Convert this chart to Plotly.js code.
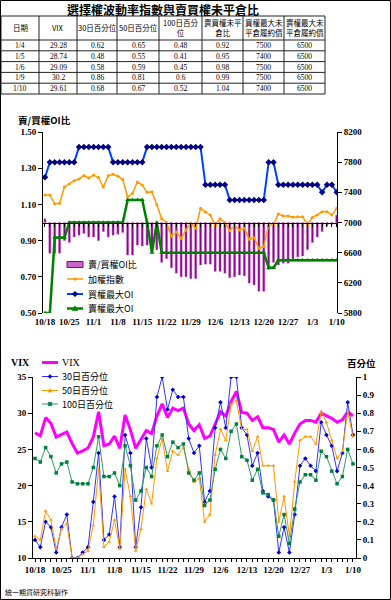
<!DOCTYPE html>
<html>
<head>
<meta charset="utf-8">
<script src="https://cdn.plot.ly/plotly-3.0.1.min.js"></script>
<style>
html,body{margin:0;padding:0;background:#fff;}
#chart{width:391px;height:600px;}
</style>
</head>
<body>
<div id="chart"></div>
<script>
// ---------------- DATA ----------------
const dates = ['10/18','10/19','10/20','10/21','10/24','10/25','10/26','10/27','10/28','10/31',
  '11/1','11/2','11/3','11/4','11/7','11/8','11/9','11/10','11/11','11/14',
  '11/15','11/16','11/17','11/18','11/21','11/22','11/23','11/24','11/25','11/28',
  '11/29','11/30','12/1','12/2','12/5','12/6','12/7','12/8','12/9','12/12',
  '12/13','12/14','12/15','12/16','12/19','12/20','12/21','12/22','12/23','12/26',
  '12/27','12/28','12/29','12/30','1/2','1/3','1/4','1/5','1/6','1/9','1/10'];

// 賣/買權OI比 (left axis, bars from 1.00)
const pcRatio = [1.02,0.83,0.83,0.83,0.90,0.89,0.92,0.93,0.94,0.92,
  0.92,0.90,0.95,0.92,0.93,0.935,0.945,0.82,0.82,0.875,
  0.87,0.875,0.87,0.85,0.78,0.80,0.75,0.72,0.70,0.70,
  0.69,0.69,0.765,0.77,0.77,0.73,0.73,0.72,0.695,0.70,
  0.71,0.705,0.665,0.655,0.62,0.62,0.74,0.78,0.765,0.775,
  0.775,0.80,0.81,0.815,0.85,0.89,0.92,0.95,0.98,0.99,1.04];

// 加權指數 (right axis)
const taiex = [7365,7365,7245,7255,7471,7510,7554,7577,7623,7590,
  7630,7597,7471,7620,7639,7613,7570,7338,7387,7537,
  7497,7400,7408,7236,7050,7000,6817,6874,6790,6900,
  6993,6923,7188,7139,7100,6960,7049,7000,6890,6960,
  6900,6923,6777,6798,6658,6679,6967,6967,7113,7086,
  7086,7069,7077,7077,6967,7069,7100,7143,7143,7100,7188];

// 買權最大OI (right axis)
const callMaxOI = [7600,7800,7800,7800,7800,7800,7800,8000,8000,8000,
  8000,8000,8000,8000,7800,7800,7800,7800,7800,7800,
  7800,8000,8000,8000,8000,8000,8000,8000,8000,8000,
  8000,8000,8000,7500,7500,7500,7500,7500,7300,7300,
  7300,7300,7300,7300,7300,7300,7800,7800,7500,7500,
  7500,7500,7500,7500,7500,7500,7500,7400,7500,7500,7400];

// 賣權最大OI (right axis)
const putMaxOI = [5800,5800,6800,6800,6800,7000,7000,7000,7000,7000,
  7000,7000,7000,7000,7000,7000,7000,7300,7300,7300,
  7300,7000,6600,7000,6600,6600,6600,6600,6600,6600,
  6600,6600,6600,6600,6600,6600,6600,6600,6600,6600,
  6600,6600,6600,6600,6600,6600,6400,6400,6500,6500,
  6500,6500,6500,6500,6500,6500,6500,6500,6500,6500,6500];

// VIX (left axis of lower chart)
const vix = [27.3,26.85,29.4,28.6,26.7,27.1,27.4,25.8,24.5,24.8,
  25.2,26.7,30.2,25.5,25.75,26.85,25.15,29.75,27.7,25.15,
  26.3,27.6,27.2,29.6,31.3,29.4,30.7,30.35,30.7,28.5,
  27.6,28.4,26.5,26.85,28.5,30.2,29.6,31.6,33.0,30.1,
  30.0,29.0,29.5,28.0,28.0,27.75,26.0,27.0,25.75,27.25,
  28.5,29.0,29.0,28.75,30.0,29.6,29.28,28.74,29.09,30.2,29.61];

// 百分位 (right axis of lower chart)
const pct30 = [0.10,0.06,0.20,0.17,0.03,0.17,0.24,0.0,0.0,0.03,
  0.06,0.31,0.58,0.10,0.13,0.34,0.06,0.68,0.58,0.06,
  0.28,0.66,0.50,0.89,1.0,0.82,0.93,0.89,0.89,0.66,
  0.58,0.62,0.31,0.37,0.72,0.86,0.72,1.0,1.0,0.72,
  0.68,0.51,0.58,0.37,0.34,0.32,0.03,0.17,0.03,0.24,
  0.51,0.55,0.51,0.48,0.75,0.68,0.62,0.48,0.58,0.86,0.68];
const pct50 = [0.12,0.10,0.26,0.21,0.05,0.16,0.19,0.0,0.0,0.02,
  0.04,0.18,0.49,0.06,0.09,0.21,0.05,0.49,0.34,0.04,
  0.16,0.38,0.30,0.55,0.66,0.48,0.59,0.57,0.61,0.49,
  0.42,0.44,0.20,0.24,0.57,0.71,0.65,0.85,0.87,0.71,
  0.71,0.59,0.67,0.51,0.51,0.51,0.20,0.34,0.12,0.42,
  0.65,0.67,0.67,0.63,0.81,0.75,0.65,0.55,0.59,0.81,0.67];
const pct100 = [0.55,0.53,0.61,0.56,0.47,0.52,0.53,0.42,0.41,0.41,
  0.41,0.50,0.67,0.45,0.45,0.47,0.40,0.62,0.51,0.32,
  0.37,0.50,0.45,0.62,0.68,0.56,0.64,0.61,0.63,0.47,
  0.43,0.47,0.29,0.32,0.49,0.60,0.55,0.70,0.74,0.56,
  0.54,0.43,0.49,0.36,0.35,0.32,0.12,0.24,0.08,0.27,
  0.42,0.46,0.46,0.43,0.59,0.56,0.48,0.41,0.45,0.60,0.52];

const tableHeaders = ['日期','VIX','30日百分位','50日百分位','100日百分<br>位','賣買權未平<br>倉比','買權最大未<br>平倉履約價','賣權最大未<br>平倉履約價'];
const tickLabels = dates.map((d,i)=> i%5===0 ? d : '');

// ---------------- LAYOUT HELPERS ----------------
const W=391, H=600;
const fx = x => x/W;
const fy = y => 1 - y/H;
const SERIF = 'Liberation Serif, Times New Roman, serif';
const CJK = 'Noto Sans CJK TC, Noto Sans CJK SC, sans-serif';
const tickFont = {family: SERIF, size: 9, color:'#000', weight:'bold'};

// chart 1 geometry
const y1Dom = [fy(313), fy(132)];
const x1Dom = [fx(43), fx(337)];
const y1Range = [0.5, 1.5];
const baseVal = 1.0;
const axisPos1 = y1Dom[0] + (baseVal - y1Range[0])/(y1Range[1]-y1Range[0])*(y1Dom[1]-y1Dom[0]);
// chart 2 geometry
const y2Dom = [fy(558), fy(377)];
const x2Dom = [fx(33), fx(356)];

const last5 = a => a.slice(-5);

const traces = [
  {type:'bar', name:'賣/買權OI比', x: dates, y: pcRatio.map(v => +(v - baseVal).toFixed(4)), base: baseVal,
   xaxis:'x', yaxis:'y', width:0.42, marker:{color:'#8B008B', line:{color:'#C060C0', width:0.5}}},
  {type:'scatter', mode:'lines+markers', name:'加權指數', x: dates, y: taiex, xaxis:'x', yaxis:'y2',
   line:{color:'#FF9900', width:1.5}, marker:{color:'#FF9900', size:3, symbol:'circle'}},
  {type:'scatter', mode:'lines+markers', name:'買權最大OI', x: dates, y: callMaxOI, xaxis:'x', yaxis:'y2',
   line:{color:'#0040FF', width:2}, marker:{color:'#000080', size:5, symbol:'diamond'}},
  {type:'scatter', mode:'lines+markers', name:'賣權最大OI', x: dates, y: putMaxOI, xaxis:'x', yaxis:'y2',
   line:{color:'#008000', width:2.5}, marker:{color:'#008000', size:4.5, symbol:'triangle-up'}},
  {type:'scatter', mode:'lines', name:'VIX', x: dates, y: vix, xaxis:'x2', yaxis:'y3',
   line:{color:'#FF00FF', width:3}},
  {type:'scatter', mode:'lines+markers', name:'30日百分位', x: dates, y: pct30, xaxis:'x2', yaxis:'y4',
   line:{color:'#3333FF', width:1}, marker:{color:'#0000CC', size:3.5, symbol:'diamond'}},
  {type:'scatter', mode:'lines+markers', name:'50日百分位', x: dates, y: pct50, xaxis:'x2', yaxis:'y4',
   line:{color:'#FF9900', width:1}, marker:{color:'#FF9900', size:3.5, symbol:'triangle-up'}},
  {type:'scatter', mode:'lines+markers', name:'100日百分位', x: dates, y: pct100, xaxis:'x2', yaxis:'y4',
   line:{color:'#339966', width:1}, marker:{color:'#008040', size:3.5, symbol:'square'}}
];

const shapes = [];
const annotations = [];
function pline(x0,y0,x1,y1,color,width){ shapes.push({type:'line', xref:'paper', yref:'paper', x0:fx(x0), x1:fx(x1), y0:fy(y0), y1:fy(y1), line:{color:color, width:width}}); }
function hline(x0,x1,y,color,width){ pline(x0,y,x1,y,color,width); }
function diamond(x,y,r,color){ shapes.push({type:'path', xref:'paper', yref:'paper', path:`M${fx(x)},${fy(y-r)}L${fx(x+r)},${fy(y)}L${fx(x)},${fy(y+r)}L${fx(x-r)},${fy(y)}Z`, fillcolor:color, line:{color:color, width:0.5}}); }
function tri(x,y,r,color){ shapes.push({type:'path', xref:'paper', yref:'paper', path:`M${fx(x)},${fy(y-r)}L${fx(x+r)},${fy(y+r*0.8)}L${fx(x-r)},${fy(y+r*0.8)}Z`, fillcolor:color, line:{color:color, width:0.5}}); }
function sq(x,y,r,color){ shapes.push({type:'rect', xref:'paper', yref:'paper', x0:fx(x-r), x1:fx(x+r), y0:fy(y+r), y1:fy(y-r), fillcolor:color, line:{color:color, width:0.5}}); }
function label(x,y,text,font,xanchor){ annotations.push({xref:'paper', yref:'paper', x:fx(x), y:fy(y), text:text, showarrow:false, xanchor:xanchor||'left', yanchor:'middle', font:font}); }

// ---------------- table (built from the series) ----------------
const tableCols = [last5(dates), last5(vix), last5(pct30), last5(pct50), last5(pct100), last5(pcRatio), last5(callMaxOI), last5(putMaxOI)];
const colEdges = [1,39,77,117,159,202,243,284,325];
const rowEdges = [16,40,50.8,61.6,72.4,83.2,94];
colEdges.forEach(x => pline(x, rowEdges[0], x, rowEdges[rowEdges.length-1], '#222', 1));
rowEdges.forEach(y => hline(colEdges[0], colEdges[colEdges.length-1], y, '#222', 1));
tableHeaders.forEach((h,c) => label((colEdges[c]+colEdges[c+1])/2, (rowEdges[0]+rowEdges[1])/2, h,
  {family: CJK, size: 7.5, color:'#000'}, 'center'));
tableCols.forEach((col,c) => col.forEach((v,r) => label((colEdges[c]+colEdges[c+1])/2, (rowEdges[r+1]+rowEdges[r+2])/2, String(v),
  {family: SERIF, size: 7.5, color:'#000'}, 'center')));

// ---------------- manual legends ----------------
const legFont = {family: CJK, size: 9, color:'#000'};
const l1y = [264.5, 279, 294, 308.5];
shapes.push({type:'rect', xref:'paper', yref:'paper', x0:fx(67), x1:fx(83), y0:fy(l1y[0]+3), y1:fy(l1y[0]-3), fillcolor:'#CC66CC', line:{color:'#8B008B', width:1}});
label(86, l1y[0], traces[0].name, legFont);
hline(67,83,l1y[1],'#FF9900',1.5); diamond(75,l1y[1],1.8,'#FF9900'); label(86, l1y[1], traces[1].name, legFont);
hline(67,83,l1y[2],'#0040FF',2); diamond(75,l1y[2],2.8,'#000080'); label(86, l1y[2], traces[2].name, legFont);
hline(67,83,l1y[3],'#008000',2.5); tri(75,l1y[3],2.8,'#008000'); label(86, l1y[3], traces[3].name, legFont);

const l2y = [362.5, 376.5, 390.5, 404];
hline(42,58,l2y[0],'#FF00FF',3); label(60, l2y[0], traces[4].name, {family:SERIF, size:10, color:'#000'});
hline(42,58,l2y[1],'#3333FF',1); diamond(50,l2y[1],2,'#0000CC'); label(60, l2y[1], traces[5].name, legFont);
hline(42,58,l2y[2],'#FF9900',1); tri(50,l2y[2],2,'#FF9900'); label(60, l2y[2], traces[6].name, legFont);
hline(42,58,l2y[3],'#339966',1); sq(50,l2y[3],1.8,'#008040'); label(60, l2y[3], traces[7].name, legFont);

// titles & notes
label(163, 9.5, '選擇權波動率指數與賣買權未平倉比', {family:CJK, size:12, color:'#000', weight:'bold'}, 'center');
label(44, 119.5, '賣/買權OI比', {family:CJK, size:9.5, color:'#000', weight:'bold'}, 'center');
label(20, 362, 'VIX', {family:SERIF, size:10, color:'#000', weight:'bold'}, 'center');
label(361, 363, '百分位', {family:CJK, size:9.5, color:'#000', weight:'bold'}, 'center');
label(3, 592, '統一期貨研究科製作', {family:CJK, size:7, color:'#000'}, 'left');

// outer border
shapes.push({type:'rect', xref:'paper', yref:'paper', x0:fx(0.5), x1:fx(390.5), y0:fy(599.5), y1:fy(0.5), line:{color:'#000', width:1}, fillcolor:'rgba(0,0,0,0)'});

const layout = {
  width: W, height: H,
  margin: {l:0, r:0, t:0, b:0, pad:0},
  paper_bgcolor:'#fff', plot_bgcolor:'rgba(0,0,0,0)',
  showlegend:false,
  font:{family: SERIF, size:9, color:'#000'},
  xaxis:{domain:x1Dom, anchor:'free', position: axisPos1, type:'category', range:[-0.41, 60.06],
    tickvals: dates, ticktext: tickLabels, ticks:'outside', ticklen:3, tickcolor:'#000', tickwidth:1,
    showline:true, linecolor:'#000', linewidth:1, showgrid:false, zeroline:false,
    tickfont: tickFont, ticklabelstandoff: 88, tickangle:0},
  yaxis:{domain:y1Dom, anchor:'x', range:y1Range, tickvals:[0.5,0.7,0.9,1.1,1.3,1.5], tickformat:'.2f',
    ticks:'outside', ticklen:4, tickcolor:'#000', showline:true, linecolor:'#000', linewidth:1,
    showgrid:false, zeroline:false, tickfont: tickFont},
  yaxis2:{overlaying:'y', side:'right', anchor:'x', range:[5800,8200], dtick:400, tick0:5800,
    ticks:'outside', ticklen:4, tickcolor:'#000', showline:true, linecolor:'#000', linewidth:1,
    showgrid:false, zeroline:false, tickfont: tickFont},
  xaxis2:{domain:x2Dom, anchor:'y3', type:'category', range:[-0.38, 60.57],
    tickvals: dates, ticktext: tickLabels, ticks:'outside', ticklen:3, tickcolor:'#000',
    showline:true, linecolor:'#000', linewidth:1, showgrid:false, zeroline:false, tickfont: tickFont, tickangle:0},
  yaxis3:{domain:y2Dom, anchor:'x2', range:[10,35], dtick:5, tick0:10,
    ticks:'outside', ticklen:4, tickcolor:'#000', showline:true, linecolor:'#000', linewidth:1,
    showgrid:false, zeroline:false, tickfont: tickFont},
  yaxis4:{overlaying:'y3', side:'right', anchor:'x2', range:[0,1], dtick:0.1, tick0:0,
    ticks:'outside', ticklen:4, tickcolor:'#000', showline:true, linecolor:'#000', linewidth:1,
    showgrid:false, zeroline:false, tickfont: tickFont},
  shapes: shapes,
  annotations: annotations
};

Plotly.newPlot('chart', traces, layout, {staticPlot:true, displayModeBar:false});
</script>
</body>
</html>
